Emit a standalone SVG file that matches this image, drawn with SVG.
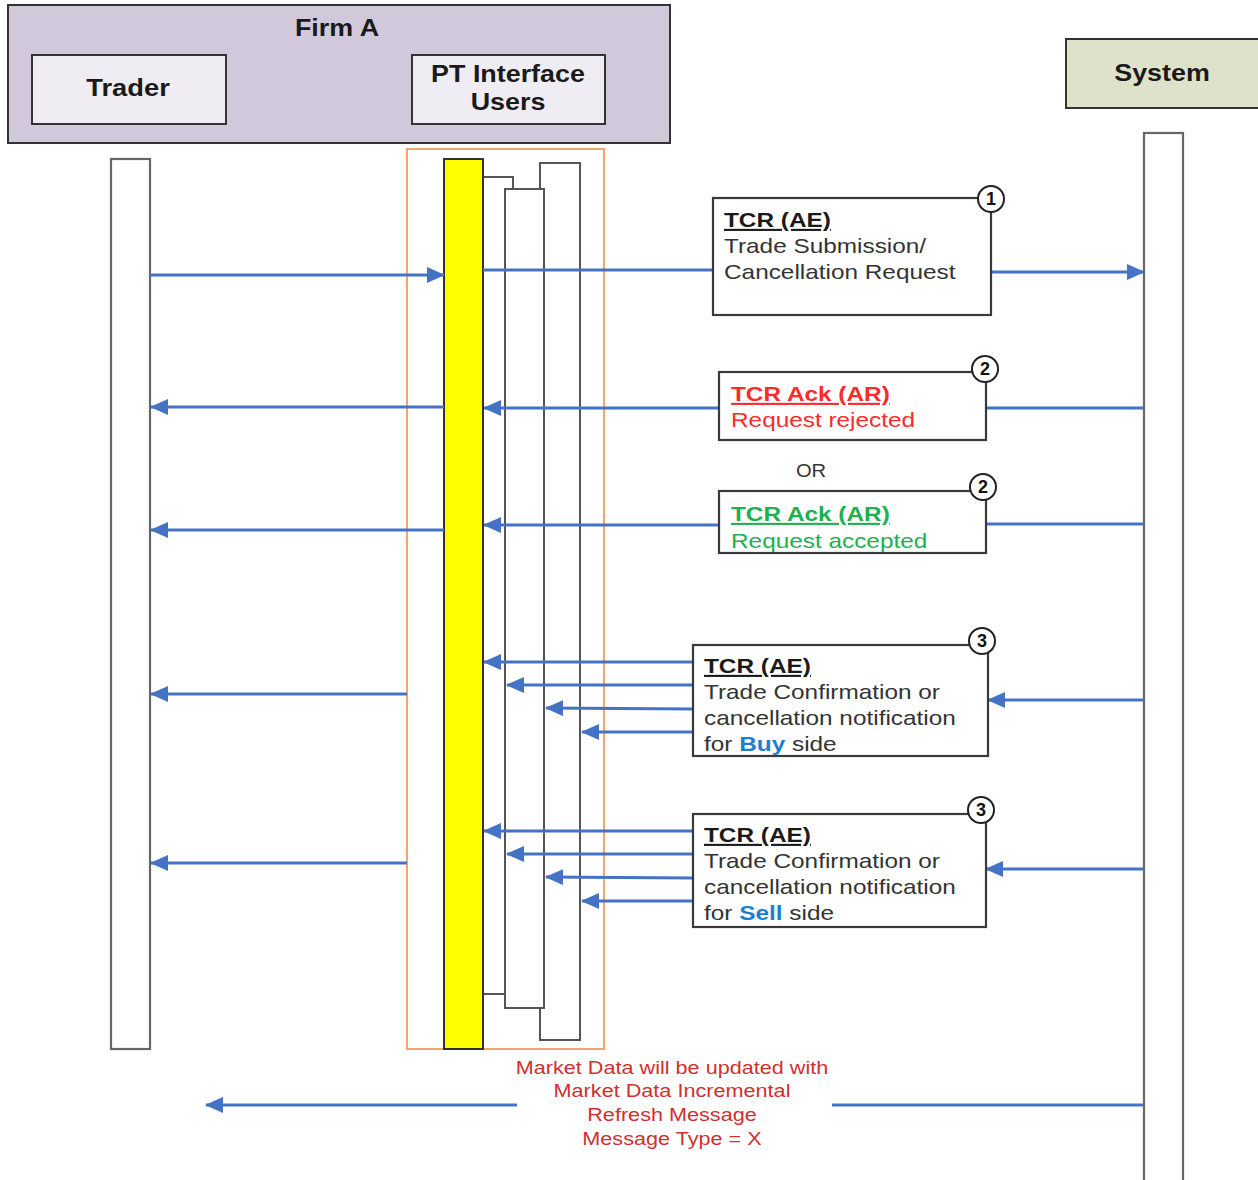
<svg xmlns="http://www.w3.org/2000/svg" width="1258" height="1180" viewBox="0 0 1258 1180">
<defs>
<marker id="ah" viewBox="0 0 18 16" refX="17" refY="8" markerWidth="18" markerHeight="16" markerUnits="userSpaceOnUse" orient="auto">
<path d="M0,0 L18,8 L0,16 z" fill="#4472c4"/>
</marker>
</defs>
<style>
text{font-family:"Liberation Sans",Arial,sans-serif;}
.hdr{font-size:24px;font-weight:bold;fill:#1a1a1a;text-anchor:middle;}
.box{fill:#fff;stroke:#3a3a3a;stroke-width:2.2;}
.life{fill:#fff;stroke:#666;stroke-width:2.2;}
.bar{fill:#fff;stroke:#555;stroke-width:2;}
.msg{stroke:#4472c4;stroke-width:2.8;fill:none;}
.arr{stroke:#4472c4;stroke-width:2.8;fill:none;marker-end:url(#ah);}
.t{font-size:21px;fill:#333;}
.tb{font-size:21px;font-weight:bold;fill:#1a1a1a;text-decoration:underline;}
.num{fill:#fff;stroke:#222;stroke-width:2;}
.numt{font-size:18px;font-weight:bold;fill:#111;text-anchor:middle;}
.red{fill:#ff2a2a;}
.grn{fill:#20b050;}
.blu{fill:#1e7fd0;font-weight:bold;}
.md{font-size:18.5px;fill:#d03030;text-anchor:middle;}
</style>

<g id="firmA">
<rect x="8" y="5" width="662" height="138" fill="#d2c8dc" stroke="#333" stroke-width="2"/>
<g transform="translate(337,0) scale(1.12,1)"><text class="hdr" x="0" y="36">Firm A</text></g>
</g>
<g id="trader">
<rect x="32" y="55" width="194" height="69" fill="#efedf3" stroke="#333" stroke-width="2"/>
<g transform="translate(128,0) scale(1.14,1)"><text class="hdr" x="0" y="96">Trader</text></g>
</g>
<g id="ptUsers">
<rect x="412" y="55" width="193" height="69" fill="#efedf3" stroke="#333" stroke-width="2"/>
<g transform="translate(508,0) scale(1.12,1)"><text class="hdr" x="0" y="82">PT Interface</text><text class="hdr" x="0" y="110">Users</text></g>
</g>
<g id="system">
<rect x="1066" y="39" width="194" height="69" fill="#dfe2cb" stroke="#333" stroke-width="2"/>
<g transform="translate(1162,0) scale(1.12,1)"><text class="hdr" x="0" y="81">System</text></g>
</g>

<g id="traderLifeline"><rect class="life" x="111" y="159" width="39" height="890"/></g>
<g id="systemLifeline"><rect class="life" x="1144" y="133" width="39" height="1060"/></g>

<g id="ptLifeline">
<rect x="407" y="149" width="197" height="900" fill="none" stroke="#f6a46c" stroke-width="2"/>
<rect class="bar" x="476" y="177" width="37" height="817"/>
<rect class="bar" x="540" y="163" width="40" height="877"/>
<rect class="bar" x="505" y="189" width="39" height="819"/>
<rect x="444" y="159" width="39" height="890" fill="#ffff00" stroke="#333" stroke-width="2"/>
</g>

<g id="connectors">
<line class="arr" x1="150" y1="275" x2="444" y2="275"/>
<line class="msg" x1="483" y1="270" x2="713" y2="270"/>
<line class="arr" x1="991" y1="272" x2="1144" y2="272"/>

<line class="msg" x1="1144" y1="408" x2="986" y2="408"/>
<line class="arr" x1="719" y1="408" x2="484" y2="408"/>
<line class="arr" x1="444" y1="407" x2="151" y2="407"/>

<line class="msg" x1="1144" y1="524" x2="986" y2="524"/>
<line class="arr" x1="719" y1="525" x2="484" y2="525"/>
<line class="arr" x1="444" y1="530" x2="151" y2="530"/>

<line class="arr" x1="1144" y1="700" x2="988" y2="700"/>
<line class="arr" x1="693" y1="662" x2="484" y2="662"/>
<line class="arr" x1="693" y1="685" x2="507" y2="685"/>
<line class="arr" x1="693" y1="709" x2="546" y2="708"/>
<line class="arr" x1="693" y1="732" x2="582" y2="732"/>
<line class="arr" x1="407" y1="694" x2="151" y2="694"/>

<line class="arr" x1="1144" y1="869" x2="986" y2="869"/>
<line class="arr" x1="693" y1="831" x2="484" y2="831"/>
<line class="arr" x1="693" y1="854" x2="507" y2="854"/>
<line class="arr" x1="693" y1="878" x2="546" y2="877"/>
<line class="arr" x1="693" y1="901" x2="582" y2="901"/>
<line class="arr" x1="407" y1="863" x2="151" y2="863"/>

<line class="msg" x1="1144" y1="1105" x2="832" y2="1105"/>
<line class="arr" x1="517" y1="1105" x2="206" y2="1105"/>
</g>

<g id="msg1">
<rect class="box" x="713" y="198" width="278" height="117"/>
<circle class="num" cx="991" cy="199" r="13"/><text class="numt" x="991" y="205">1</text>
<g transform="translate(724,0) scale(1.16,1)">
<text class="tb" x="0" y="227">TCR (AE)</text>
<text class="t" x="0" y="253">Trade Submission/</text>
<text class="t" x="0" y="279">Cancellation Request</text>
</g>
</g>

<g id="msg2reject">
<rect class="box" x="719" y="372" width="267" height="68"/>
<circle class="num" cx="985" cy="369" r="13"/><text class="numt" x="985" y="375">2</text>
<g transform="translate(731,0) scale(1.16,1)">
<text class="tb red" x="0" y="401">TCR Ack (AR)</text>
<text class="t red" x="0" y="427">Request rejected</text>
</g>
</g>

<g id="orLabel"><g transform="translate(811,0) scale(1.12,1)"><text x="0" y="477" font-size="18" fill="#333" text-anchor="middle">OR</text></g></g>

<g id="msg2accept">
<rect class="box" x="719" y="491" width="267" height="62"/>
<circle class="num" cx="983" cy="487" r="13"/><text class="numt" x="983" y="493">2</text>
<g transform="translate(731,0) scale(1.16,1)">
<text class="tb grn" x="0" y="521">TCR Ack (AR)</text>
<text class="t grn" x="0" y="548">Request accepted</text>
</g>
</g>

<g id="msg3buy">
<rect class="box" x="693" y="645" width="295" height="111"/>
<circle class="num" cx="982" cy="641" r="13"/><text class="numt" x="982" y="647">3</text>
<g transform="translate(704,0) scale(1.16,1)">
<text class="tb" x="0" y="673">TCR (AE)</text>
<text class="t" x="0" y="699">Trade Confirmation or</text>
<text class="t" x="0" y="725">cancellation notification</text>
<text class="t" x="0" y="751">for <tspan class="blu">Buy</tspan> side</text>
</g>
</g>

<g id="msg3sell">
<rect class="box" x="693" y="814" width="293" height="113"/>
<circle class="num" cx="981" cy="810" r="13"/><text class="numt" x="981" y="816">3</text>
<g transform="translate(704,0) scale(1.16,1)">
<text class="tb" x="0" y="842">TCR (AE)</text>
<text class="t" x="0" y="868">Trade Confirmation or</text>
<text class="t" x="0" y="894">cancellation notification</text>
<text class="t" x="0" y="920">for <tspan class="blu">Sell</tspan> side</text>
</g>
</g>

<g id="marketData">
<g transform="translate(672,0) scale(1.17,1)">
<text class="md" x="0" y="1074">Market Data will be updated with</text>
<text class="md" x="0" y="1097">Market Data Incremental</text>
<text class="md" x="0" y="1121">Refresh Message</text>
<text class="md" x="0" y="1145">Message Type = X</text>
</g>
</g>
</svg>
